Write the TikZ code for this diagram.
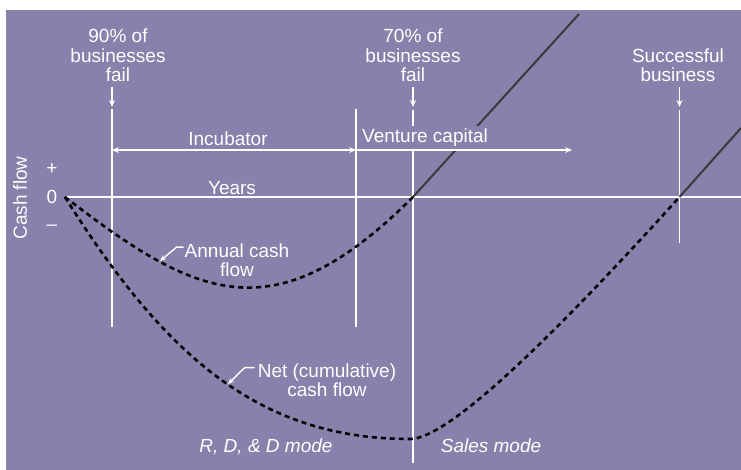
\documentclass[tikz,border=0pt]{standalone}
\usepackage{fontspec}
\setmainfont{Liberation Sans}
\usetikzlibrary{arrows.meta}
\definecolor{bg}{RGB}{135,129,171}
\definecolor{dk}{RGB}{58,58,58}
\begin{document}
\begin{tikzpicture}[x=1pt,y=-1pt,
  font=\fontsize{19}{19.5}\selectfont,
  wline/.style={white, line width=1.6pt},
  tipw/.tip={Stealth[length=7pt,width=6pt]},
  warrow/.style={white, line width=1.6pt, -tipw},
  dline/.style={dk, line width=2pt},
  cashcurve/.style={black, line width=2.6pt, dash pattern=on 5pt off 4pt},
  lbl/.style={text=white, inner sep=0pt, align=center},
  ilbl/.style={text=white, inner sep=0pt, font=\fontsize{19}{19.5}\selectfont\itshape}]
\useasboundingbox (0,0) rectangle (741,470);
\fill[bg] (6,10) rectangle (741,470);

% key points
\coordinate (O) at (65,197);
\coordinate (E) at (741,197);
\coordinate (v1t) at (112,109);  \coordinate (v1b) at (112,327);
\coordinate (v2t) at (356,109);  \coordinate (v2b) at (356,327);
\coordinate (v3t) at (413,110);  \coordinate (v3b) at (413,463);
\coordinate (v4t) at (679.5,110); \coordinate (v4b) at (679.5,243);
\coordinate (A0) at (413,197);   \coordinate (A1) at (579,14);
\coordinate (B0) at (679.5,197); \coordinate (B1) at (741,128);
\coordinate (M) at (410,439);
\coordinate (i1) at (112,150);   \coordinate (i2) at (356,150);
\coordinate (i3) at (572,150);
\coordinate (a90) at (112,87);   \coordinate (t90) at (112,107);
\coordinate (a70) at (413,87);   \coordinate (t70) at (413,107);
\coordinate (asu) at (679.5,87); \coordinate (tsu) at (679.5,107);
\coordinate (ap2) at (160,261);
\coordinate (np2) at (228,384);

% axis and guide lines
\draw[wline] (O) -- (E);
\draw[wline] (v1t) -- (v1b);
\draw[wline] (v2t) -- (v2b);
\draw[wline] (v3t) -- (v3b);
\draw[wline] (v4t) -- (v4b);

% positive cash flow lines
\draw[dline] (A0) -- (A1);
\draw[dline] (B0) -- (B1);

% cash flow curves
\draw[cashcurve] (O) .. controls (195,297) and (273,337) .. (A0);
\draw[cashcurve] (O) .. controls (165,357) and (260,439) .. (M)
                     .. controls (450,439) and (560,329) .. (B0);

% venture capital label (masks lines behind it)
\node[lbl, fill=bg, anchor=base west, inner xsep=2pt, inner ysep=3pt,
      text height=14pt, text depth=4pt] (vcap) at (360,143) {Venture capital};

% phase arrows
\draw[white, line width=1.6pt, tipw-tipw] (i1) -- (i2);
\draw[warrow] (i2) -- (i3);

% axis labels
\node[lbl, anchor=base] (inc) at (228,146) {Incubator};
\node[lbl, anchor=base] (yrs) at (232,195) {Years};
\node[lbl] (plus) at (52,169) {+};
\node[lbl, anchor=base] (zero) at (52,204) {0};
\node[lbl] (minus) at (52,228) {–};
\node[lbl, rotate=90, anchor=base] (cflow) at (27,198) {Cash flow};

% top labels with arrows
\node[lbl, anchor=south] (f90) at (118,82) {90\% of\\businesses\\fail};
\node[lbl, anchor=south] (f70) at (413,82) {70\% of\\businesses\\fail};
\node[lbl, anchor=south] (succ) at (678,82) {Successful\\business};
\draw[warrow] (a90) -- (t90);
\draw[warrow] (a70) -- (t70);
\draw[warrow] (asu) -- (tsu);

% curve labels
\node[lbl, anchor=south] (acf) at (237,277) {Annual cash\\flow};
\node[lbl, anchor=south] (ncf) at (327,397) {Net (cumulative)\\cash flow};
\draw[white, line width=1.4pt, -{Stealth[length=6pt,width=5pt]}]
  ([xshift=-1pt,yshift=-4pt]acf.north west) -- ++(-7,0) -- (ap2);
\draw[white, line width=1.4pt, -{Stealth[length=6pt,width=5pt]}]
  ([xshift=-3pt,yshift=-4.5pt]ncf.north west) -- ++(-10,0) -- (np2);

% mode labels
\node[ilbl, anchor=base] (rdd) at (266,452) {R, D, \& D mode};
\node[ilbl, anchor=base] (sales) at (491,452) {Sales mode};
\end{tikzpicture}
\end{document}
